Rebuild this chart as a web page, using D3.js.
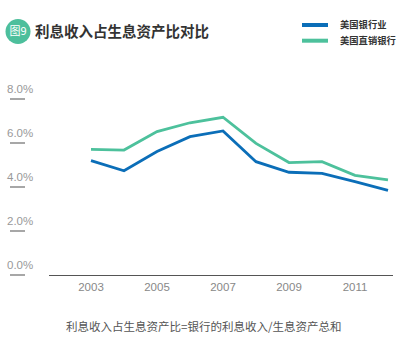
<!DOCTYPE html>
<html>
<head>
<meta charset="utf-8">
<script src="https://cdn.jsdelivr.net/npm/d3@7"></script>
<style>
  body { margin: 0; background: #fff; }
  svg { display: block; }
</style>
</head>
<body>
<div id="chart"></div>
<script>
// 数据
const years = [2003, 2004, 2005, 2006, 2007, 2008, 2009, 2010, 2011, 2012];
const bankIndustry = [5.2, 4.74, 5.61, 6.29, 6.55, 5.15, 4.67, 4.62, 4.24, 3.85];
const directBanks = [5.71, 5.68, 6.52, 6.92, 7.17, 5.98, 5.11, 5.15, 4.53, 4.32];
const yTicks = [0, 2, 4, 6, 8];
const xTicks = [2003, 2005, 2007, 2009, 2011];

const series = [
    { name: '美国银行业', values: bankIndustry, color: '#0b6eb8' },
    { name: '美国直销银行', values: directBanks, color: '#4dc19c' }
];

const width = 403;
const height = 343;
const cjk = '"Noto Sans CJK SC", "Noto Sans", sans-serif';
const num = '"Liberation Sans", Arial, sans-serif';

const svg = d3.select('#chart').append('svg')
    .attr('width', width)
    .attr('height', height);

const x = d3.scaleLinear().domain([2003, 2012]).range([91, 388]);
const y = d3.scaleLinear().domain([0, 8]).range([275, 99]);

// 标题
svg.append('circle')
    .attr('cx', 18).attr('cy', 31.5).attr('r', 12.5)
    .attr('fill', '#4dbf9c');
svg.append('text')
    .attr('x', 18).attr('y', 31.5)
    .attr('dy', '0.36em')
    .attr('text-anchor', 'middle')
    .attr('font-family', cjk)
    .attr('font-size', 11)
    .attr('fill', '#fff')
    .text('图9');
svg.append('text')
    .attr('x', 35).attr('y', 31.5)
    .attr('dy', '0.36em')
    .attr('font-family', cjk)
    .attr('font-size', 14.5)
    .attr('font-weight', 'bold')
    .attr('fill', '#333')
    .text('利息收入占生息资产比对比');

// 图例
const legend = svg.append('g')
    .selectAll('g')
    .data(series)
    .enter().append('g')
    .attr('transform', (d, i) => `translate(302,${25 + i * 15.7})`);
legend.append('line')
    .attr('x1', 0).attr('x2', 26)
    .attr('stroke', d => d.color)
    .attr('stroke-width', 4);
legend.append('text')
    .attr('x', 38)
    .attr('dy', '0.36em')
    .attr('font-family', cjk)
    .attr('font-size', 9.3)
    .attr('font-weight', 'bold')
    .attr('fill', '#333')
    .text(d => d.name);

// Y轴：刻度文字加下划线
const yAxis = svg.append('g')
    .selectAll('g')
    .data(yTicks)
    .enter().append('g')
    .attr('transform', d => `translate(0,${y(d)})`);
yAxis.append('text')
    .attr('x', 7)
    .attr('y', -6)
    .attr('font-family', num)
    .attr('font-size', 11.5)
    .attr('fill', '#999')
    .text(d => d.toFixed(1) + '%');
yAxis.append('line')
    .attr('x1', 10).attr('x2', 25)
    .attr('stroke', '#777')
    .attr('stroke-width', 1.3);

// X轴
svg.append('line')
    .attr('x1', 49).attr('x2', 393)
    .attr('y1', 275.5).attr('y2', 275.5)
    .attr('stroke', '#555')
    .attr('stroke-width', 1);
svg.append('g')
    .selectAll('text')
    .data(xTicks)
    .enter().append('text')
    .attr('x', d => x(d))
    .attr('y', 287)
    .attr('dy', '0.36em')
    .attr('text-anchor', 'middle')
    .attr('font-family', num)
    .attr('font-size', 11.5)
    .attr('fill', '#888')
    .text(d => d);

// 折线
const line = d3.line()
    .x((d, i) => x(years[i]))
    .y(d => y(d));

svg.append('g')
    .selectAll('path')
    .data(series)
    .enter().append('path')
    .attr('d', d => line(d.values))
    .attr('fill', 'none')
    .attr('stroke', d => d.color)
    .attr('stroke-width', 2.8)
    .attr('stroke-linejoin', 'miter');

// 注释
svg.append('text')
    .attr('x', 66).attr('y', 327)
    .attr('dy', '0.36em')
    .attr('font-family', cjk)
    .attr('font-size', 11.5)
    .attr('fill', '#555')
    .text('利息收入占生息资产比=银行的利息收入/生息资产总和');
</script>
</body>
</html>
